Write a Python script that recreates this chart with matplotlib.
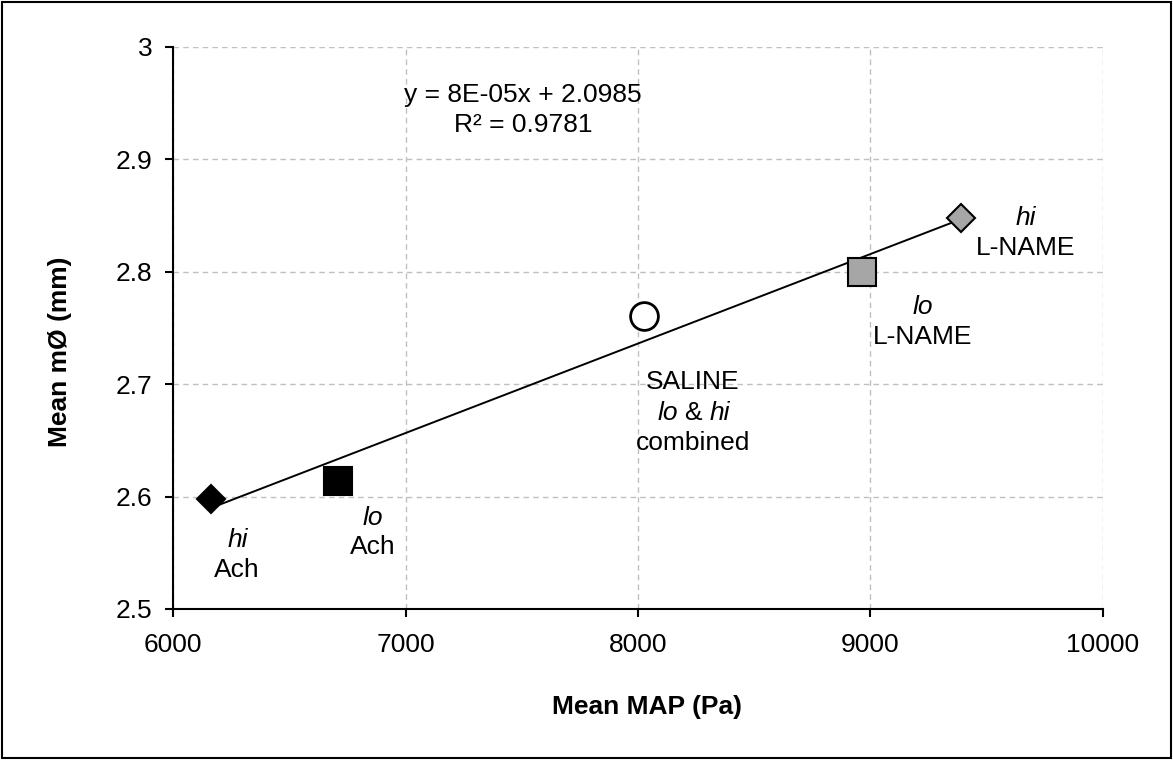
import numpy as np
import matplotlib.pyplot as plt

plt.rcParams['font.family'] = ['Liberation Sans', 'DejaVu Sans']

# Mean MAP (Pa) and mean diameter (mm) per group
groups = ["hi Ach", "lo Ach", "SALINE", "lo L-NAME", "hi L-NAME"]
map_pa = [6163, 6708, 8027, 8962, 9389]
diam_mm = [2.598, 2.614, 2.761, 2.800, 2.848]
markers = ["D", "s", "o", "s", "D"]
faces = ["black", "black", "white", "#a6a6a6", "#a6a6a6"]
sizes = [14.5, 20, 20, 20, 14.5]

fig = plt.figure(figsize=(11.73, 7.6), dpi=100)
ax = fig.add_axes([0.1475, 0.1987, 0.7928, 0.7395])

# linear trendline
slope, icept = np.polyfit(map_pa, diam_mm, 1)
xs = np.array([min(map_pa), max(map_pa)])
ax.plot(xs, slope * xs + icept, color="black", lw=1.4, zorder=2)

for x, y, m, fc, s in zip(map_pa, diam_mm, markers, faces, sizes):
    ax.plot(x, y, marker=m, markersize=s, markerfacecolor=fc,
            markeredgecolor="black", markeredgewidth=2.0 if m == "o" else 1.5,
            linestyle="none", zorder=3)

ax.set_xlim(6000, 10000)
ax.set_ylim(2.5, 3.0)
ax.set_xticks([6000, 7000, 8000, 9000, 10000])
ax.set_yticks([2.5, 2.6, 2.7, 2.8, 2.9, 3.0])
ax.set_yticklabels(["2.5", "2.6", "2.7", "2.8", "2.9", "3"])
ax.grid(True, color="#c0c0c0", linestyle=(0, (4, 3)), lw=1.0)
ax.set_axisbelow(True)
for s in ["top", "right"]:
    ax.spines[s].set_visible(False)
for s in ["left", "bottom"]:
    ax.spines[s].set_linewidth(1.5)
ax.tick_params(direction="out", length=6, width=1.5, labelsize=19)
ax.tick_params(axis="x", pad=11)
ax.tick_params(axis="y", pad=9)

ax.set_xlabel("Mean MAP (Pa)", fontsize=19, fontweight="bold", va="center")
ax.set_ylabel("Mean mØ (mm)", fontsize=19, fontweight="bold", va="center")
ax.xaxis.set_label_coords(0.5097, -0.174)
ax.yaxis.set_label_coords(-0.1215, 0.457)

fs = 19
ax.text(7505, 2.9573, "y = 8E-05x + 2.0985", ha="center", va="center", fontsize=fs)
ax.text(7505, 2.9306, "R² = 0.9781", ha="center", va="center", fontsize=fs)

# group labels
ax.text(6277, 2.5614, "hi", style="italic", ha="center", va="center", fontsize=fs)
ax.text(6275, 2.5347, "Ach", ha="center", va="center", fontsize=fs)
ax.text(6860, 2.581, "lo", style="italic", ha="center", va="center", fontsize=fs)
ax.text(6860, 2.555, "Ach", ha="center", va="center", fontsize=fs)
ax.text(8237, 2.7022, "SALINE", ha="center", va="center", fontsize=fs)
ax.text(8129, 2.6744, "lo", style="italic", ha="center", va="center", fontsize=fs)
ax.text(8237, 2.6744, "&", ha="center", va="center", fontsize=fs)
ax.text(8353, 2.6744, "hi", style="italic", ha="center", va="center", fontsize=fs)
ax.text(8237, 2.6477, "combined", ha="center", va="center", fontsize=fs)
ax.text(9226, 2.7687, "lo", style="italic", ha="center", va="center", fontsize=fs)
ax.text(9226, 2.742, "L-NAME", ha="center", va="center", fontsize=fs)
ax.text(9669, 2.848, "hi", style="italic", ha="center", va="center", fontsize=fs)
ax.text(9669, 2.821, "L-NAME", ha="center", va="center", fontsize=fs)

# outer chart border
fig.patches.append(plt.Rectangle((0.002, 0.002), 0.996, 0.996, transform=fig.transFigure,
                                 fill=False, edgecolor="black", lw=1.5))

fig.savefig("out.png", dpi=100)
